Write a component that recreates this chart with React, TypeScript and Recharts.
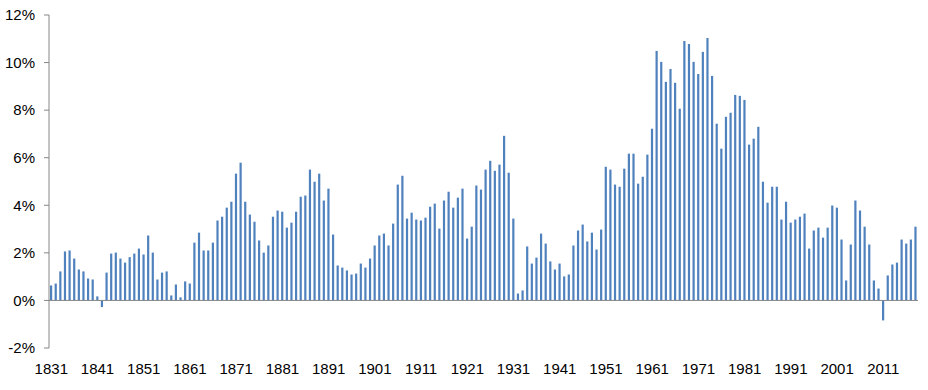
import React from 'react';
import { BarChart, Bar, XAxis, YAxis, ReferenceLine } from 'recharts';

const startYear = 1831;

// Annual values (%), 1831-2018
const values: number[] = [
  0.63, 0.71, 1.22, 2.06, 2.10, 1.76, 1.30, 1.22, 0.92, 0.88,
  0.17, -0.28, 1.17, 1.97, 2.01, 1.76, 1.59, 1.82, 1.97, 2.18,
  1.93, 2.73, 2.01, 0.88, 1.17, 1.22, 0.21, 0.67, 0.13, 0.80,
  0.71, 2.43, 2.85, 2.10, 2.10, 2.43, 3.36, 3.52, 3.90, 4.15,
  5.33, 5.79, 4.15, 3.61, 3.31, 2.52, 2.01, 2.31, 3.52, 3.78,
  3.73, 3.06, 3.27, 3.73, 4.36, 4.41, 5.50, 4.99, 5.33, 4.20,
  4.70, 2.77, 1.47, 1.38, 1.26, 1.09, 1.13, 1.55, 1.38, 1.76,
  2.31, 2.73, 2.81, 2.31, 3.23, 4.87, 5.24, 3.44, 3.69, 3.40,
  3.36, 3.48, 3.94, 4.07, 3.02, 4.20, 4.57, 3.90, 4.32, 4.70,
  2.60, 3.10, 4.83, 4.66, 5.50, 5.87, 5.45, 5.71, 6.92, 5.37,
  3.44, 0.29, 0.42, 2.27, 1.55, 1.80, 2.81, 2.39, 1.64, 1.30,
  1.55, 1.01, 1.09, 2.31, 2.94, 3.19, 2.48, 2.85, 2.14, 2.98,
  5.62, 5.50, 4.87, 4.78, 5.54, 6.17, 6.17, 4.91, 5.20, 6.13,
  7.22, 10.49, 10.03, 9.19, 9.73, 9.15, 8.06, 10.91, 10.78, 10.03,
  9.52, 10.45, 11.03, 9.44, 7.43, 6.38, 7.72, 7.89, 8.64, 8.60,
  8.43, 6.55, 6.80, 7.30, 4.99, 4.11, 4.78, 4.78, 3.40, 4.15,
  3.27, 3.40, 3.52, 3.65, 2.18, 2.94, 3.06, 2.64, 3.06, 3.99,
  3.90, 2.56, 0.84, 2.35, 4.20, 3.78, 3.10, 2.35, 0.84, 0.50,
  -0.84, 1.05, 1.51, 1.59, 2.56, 2.39, 2.56, 3.10,
];

const years: number[] = values.map((_, i) => startYear + i);

const xTicks: number[] = [
  1831, 1841, 1851, 1861, 1871, 1881, 1891, 1901, 1911, 1921,
  1931, 1941, 1951, 1961, 1971, 1981, 1991, 2001, 2011,
];

const yTicks: number[] = [-2, 0, 2, 4, 6, 8, 10, 12];

const data = years.map((year, i) => ({ year, v: values[i] }));

const FONT = "'Liberation Sans', Arial, sans-serif";

export default function App() {
  return (
    <div style={{ position: 'absolute', left: 0, top: 0, width: 928, height: 390, background: '#fff' }}>
      <BarChart
        width={928}
        height={390}
        data={data}
        margin={{ top: 15, right: 10, left: 0, bottom: 0 }}
        barCategoryGap="26%"
      >
        <XAxis
          dataKey="year"
          ticks={xTicks}
          interval={0}
          axisLine={false}
          tickLine={false}
          tickSize={0}
          tickMargin={15}
          height={42}
          tick={{ fill: '#000', fontSize: 15, fontFamily: FONT }}
        />
        <YAxis
          domain={[-2, 12]}
          ticks={yTicks}
          interval={0}
          width={49}
          tickFormatter={(v: number) => `${v}%`}
          axisLine={{ stroke: '#868686' }}
          tickLine={{ stroke: '#868686' }}
          tickSize={5}
          tickMargin={9}
          tick={{ fill: '#000', fontSize: 15, fontFamily: FONT }}
        />
        <Bar dataKey="v" fill="#4F81BD" barSize={2.2} isAnimationActive={false} />
        <ReferenceLine y={0} stroke="#868686" strokeWidth={1} />
      </BarChart>
    </div>
  );
}
